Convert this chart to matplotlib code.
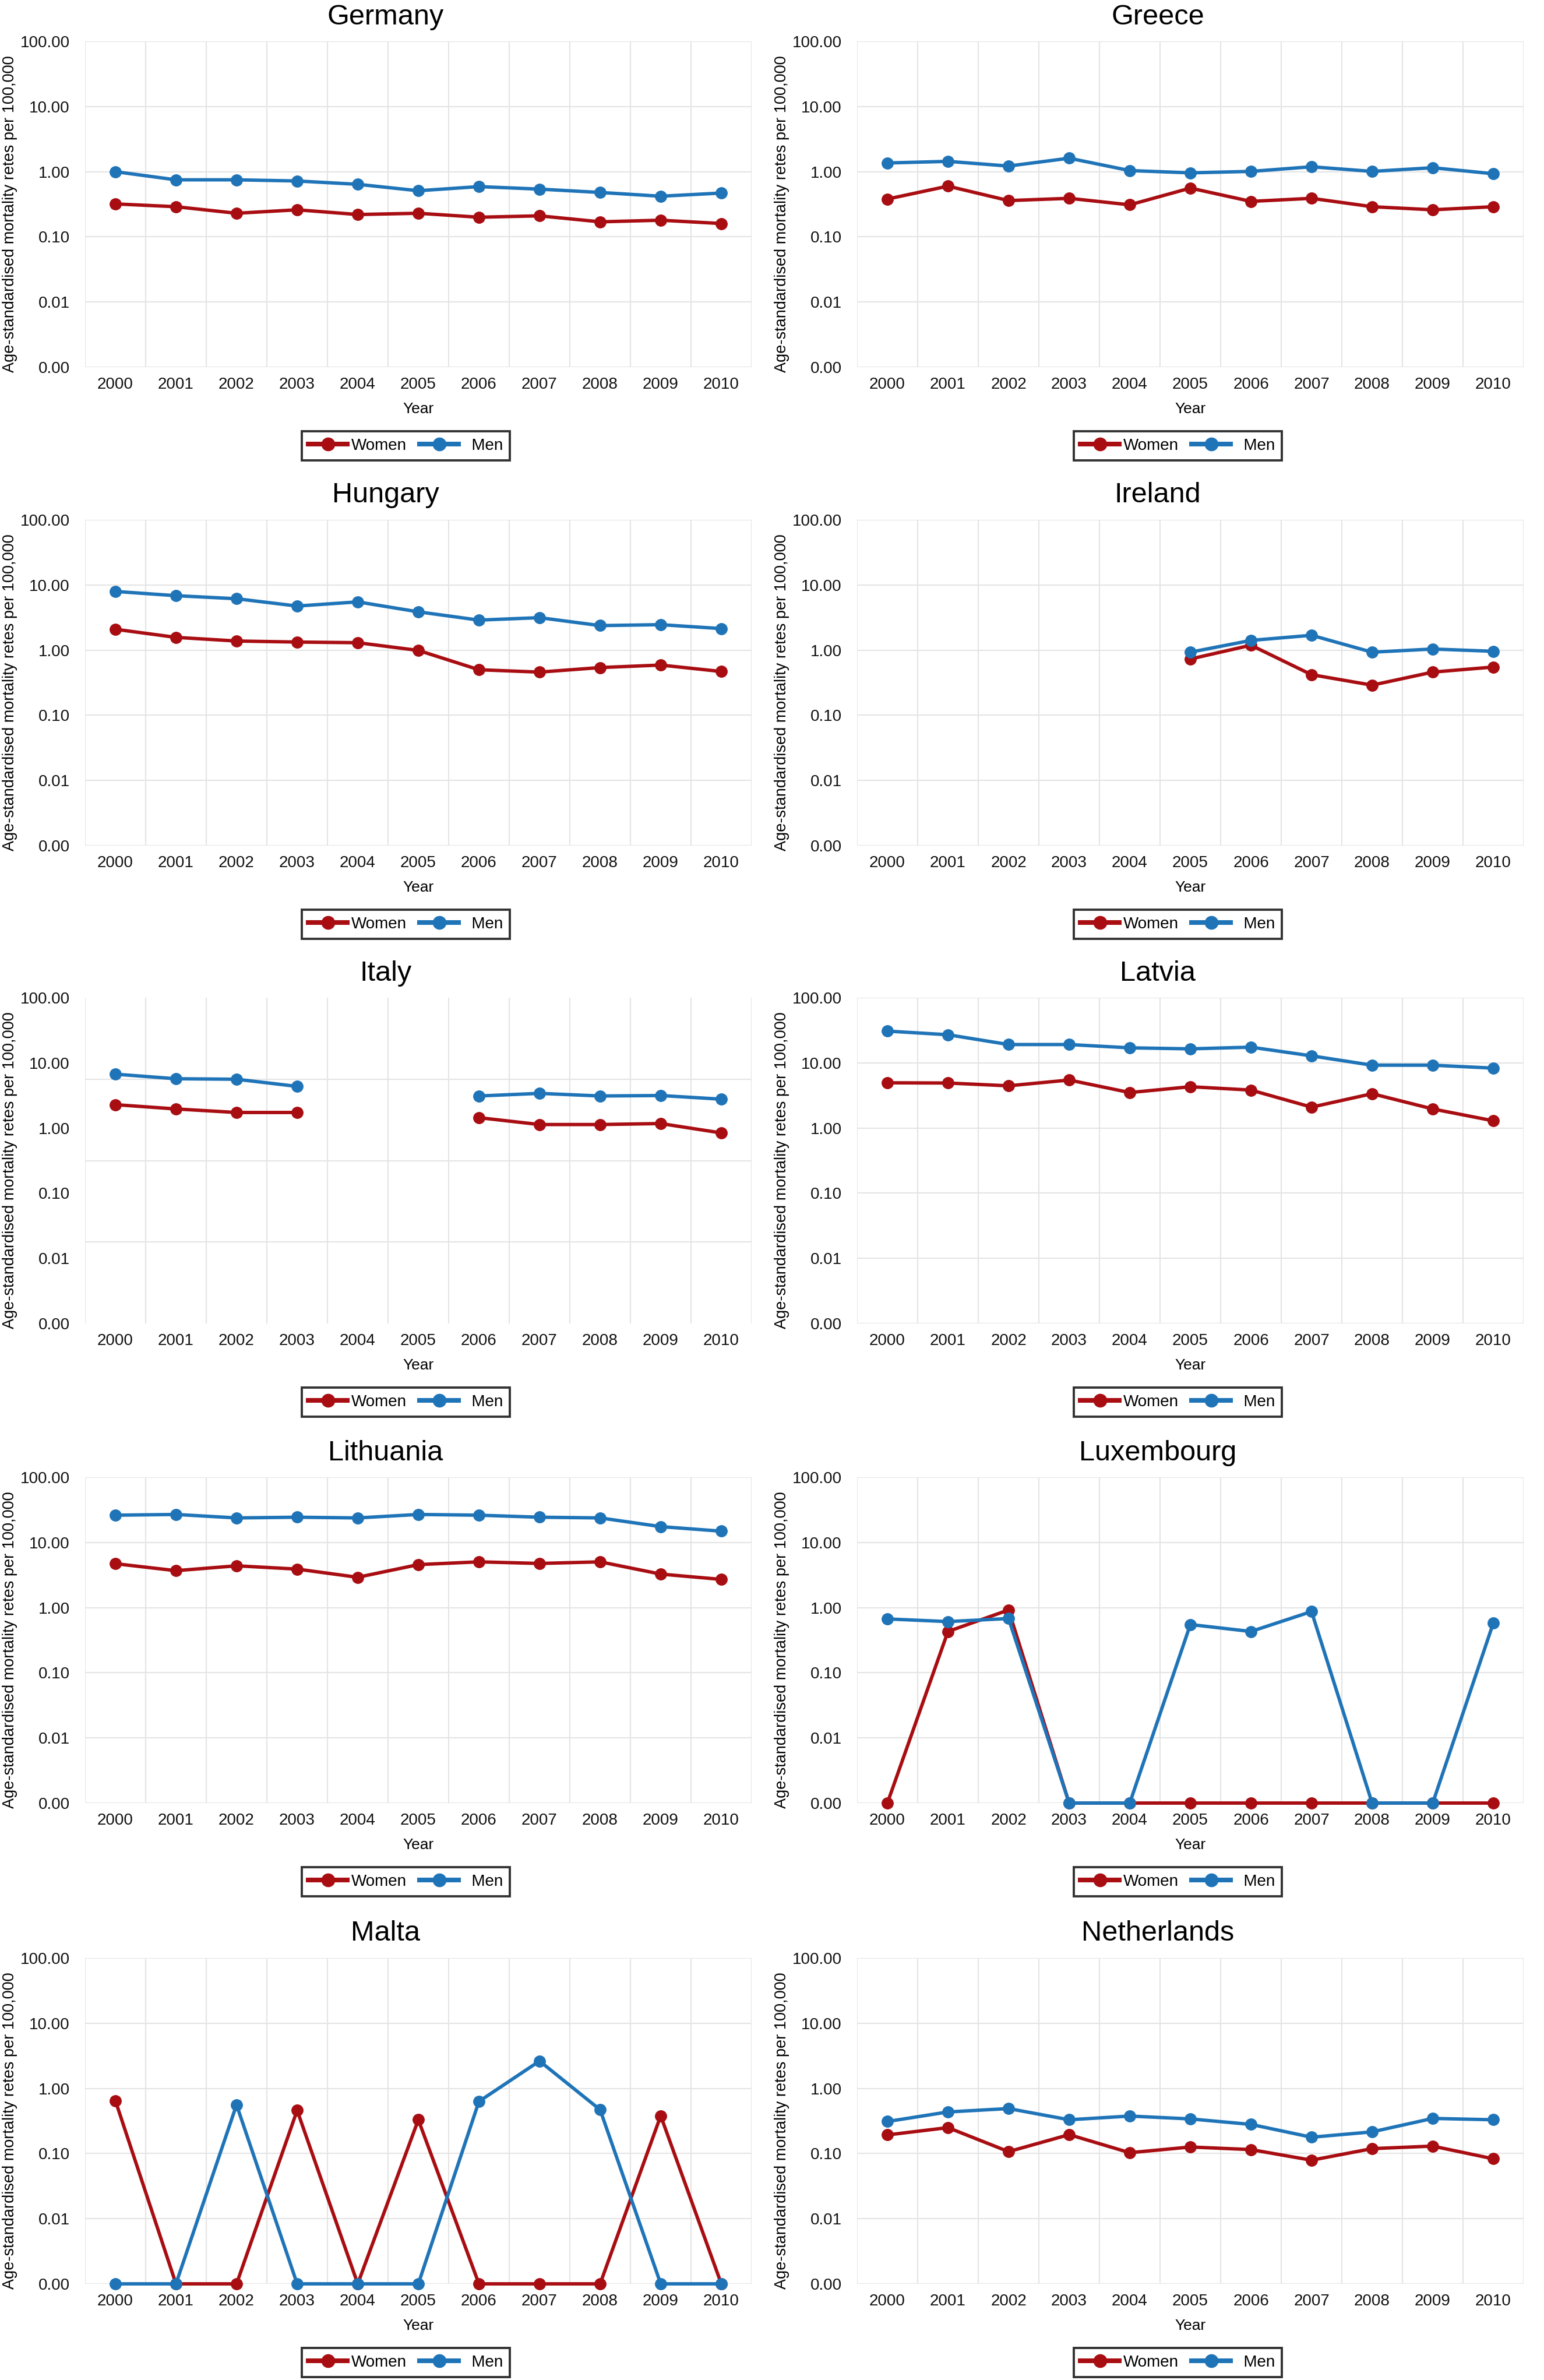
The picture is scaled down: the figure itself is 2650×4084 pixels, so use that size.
# Age-standardised mortality rates 2000-2010, women vs men, ten countries
import numpy as np
import matplotlib.pyplot as plt
from matplotlib.lines import Line2D
from matplotlib.ticker import NullFormatter, NullLocator

plt.rcParams['font.family'] = ['Liberation Sans', 'DejaVu Sans']

nan = np.nan

# Years on the x axis
years = ['2000', '2001', '2002', '2003', '2004', '2005',
         '2006', '2007', '2008', '2009', '2010']

# Values (0 = zero rate, nan = no data)
germany_women = [0.32, 0.29, 0.23, 0.26, 0.22, 0.23, 0.20, 0.21, 0.17, 0.18, 0.16]
germany_men = [1.00, 0.75, 0.75, 0.72, 0.64, 0.51, 0.59, 0.54, 0.48, 0.42, 0.47]

greece_women = [0.38, 0.60, 0.36, 0.39, 0.31, 0.56, 0.35, 0.39, 0.29, 0.26, 0.29]
greece_men = [1.36, 1.44, 1.22, 1.61, 1.04, 0.96, 1.01, 1.19, 1.01, 1.15, 0.93]

hungary_women = [2.09, 1.57, 1.38, 1.33, 1.30, 0.99, 0.50, 0.46, 0.54, 0.59, 0.47]
hungary_men = [7.96, 6.85, 6.15, 4.75, 5.50, 3.87, 2.89, 3.15, 2.38, 2.46, 2.14]

ireland_women = [nan, nan, nan, nan, nan, 0.73, 1.19, 0.42, 0.29, 0.46, 0.55]
ireland_men = [nan, nan, nan, nan, nan, 0.93, 1.41, 1.69, 0.93, 1.04, 0.96]

italy_women = [2.28, 1.96, 1.73, 1.73, nan, nan, 1.44, 1.13, 1.13, 1.17, 0.84]
italy_men = [6.70, 5.70, 5.60, 4.35, nan, nan, 3.10, 3.40, 3.10, 3.15, 2.77]

latvia_women = [4.94, 4.90, 4.44, 5.45, 3.50, 4.30, 3.82, 2.09, 3.36, 1.96, 1.29]
latvia_men = [30.7, 27.0, 19.1, 19.1, 17.0, 16.4, 17.4, 12.8, 9.2, 9.2, 8.3]

lithuania_women = [4.72, 3.69, 4.38, 3.90, 2.92, 4.57, 5.04, 4.76, 5.04, 3.27, 2.71]
lithuania_men = [26.2, 26.9, 23.8, 24.4, 23.8, 26.9, 26.2, 24.4, 23.8, 17.5, 14.9]

luxembourg_women = [0, 0.43, 0.92, 0, 0, 0, 0, 0, 0, 0, 0]
luxembourg_men = [0.67, 0.61, 0.68, 0, 0, 0.55, 0.43, 0.87, 0, 0, 0.58]

malta_women = [0.65, 0, 0, 0.46, 0, 0.33, 0, 0, 0, 0.38, 0]
malta_men = [0, 0, 0.56, 0, 0, 0, 0.63, 2.63, 0.47, 0, 0]

netherlands_women = [0.193, 0.25, 0.107, 0.195, 0.103, 0.126, 0.115, 0.079, 0.119, 0.13, 0.083]
netherlands_men = [0.31, 0.435, 0.49, 0.33, 0.376, 0.34, 0.28, 0.178, 0.215, 0.346, 0.33]

countries = ['Germany', 'Greece', 'Hungary', 'Ireland', 'Italy',
             'Latvia', 'Lithuania', 'Luxembourg', 'Malta', 'Netherlands']
women = [germany_women, greece_women, hungary_women, ireland_women, italy_women,
         latvia_women, lithuania_women, luxembourg_women, malta_women, netherlands_women]
men = [germany_men, greece_men, hungary_men, ireland_men, italy_men,
       latvia_men, lithuania_men, luxembourg_men, malta_men, netherlands_men]

# Y axis: log scale, zero drawn one decade below 0.01
ytick_vals = [0.001, 0.01, 0.1, 1, 10, 100]
ytick_labels = ['0.00', '0.01', '0.10', '1.00', '10.00', '100.00']
ZERO_POS = 0.001

women_color = '#a80d12'
men_color = '#1f74b8'
grid_color = '#e4e4e4'

# Figure / layout in pixels
W, H = 2650, 4084
fig = plt.figure(figsize=(W / 100, H / 100), dpi=100)

col_left = [146, 1471]
ax_w = 1144
row_top = [71, 892, 1712, 2535, 3360]
ax_h = 559

x = np.arange(len(years))

for i, name in enumerate(countries):
    row, col = i // 2, i % 2
    ax = fig.add_axes([col_left[col] / W, 1 - (row_top[row] + ax_h) / H,
                       ax_w / W, ax_h / H])

    w = np.array(women[i], dtype=float)
    m = np.array(men[i], dtype=float)
    w = np.where(w == 0, ZERO_POS, w)
    m = np.where(m == 0, ZERO_POS, m)

    ax.plot(x, w, color=women_color, lw=4.2, marker='o', ms=14,
            clip_on=False, zorder=3)
    ax.plot(x, m, color=men_color, lw=4.2, marker='o', ms=14,
            clip_on=False, zorder=4)

    ax.set_yscale('log')
    ax.set_ylim(0.001, 100)
    ax.set_xlim(-0.5, len(years) - 0.5)

    ax.set_yticks(ytick_vals)
    ax.set_yticklabels(ytick_labels)
    ax.yaxis.set_minor_formatter(NullFormatter())
    ax.set_xticks(x)
    ax.set_xticklabels(years)
    ax.set_xticks(np.arange(-0.5, len(years), 1), minor=True)

    ax.tick_params(axis='both', which='both', length=0, labelsize=20,
                   colors='#111111')
    ax.tick_params(axis='y', pad=19)
    ax.tick_params(axis='x', pad=12)

    # vertical grid at category boundaries
    ax.grid(axis='x', which='minor', color=grid_color, lw=1.5)
    ax.grid(axis='x', which='major', visible=False)
    if name == 'Italy':
        # this panel's horizontal grid is split in 4 equal parts
        ax.set_yticks([10 ** 2, 10 ** 0.75, 10 ** -0.5, 10 ** -1.75, 10 ** -3],
                      minor=True)
        ax.grid(axis='y', which='minor', color=grid_color, lw=1.5)
        ax.grid(axis='y', which='major', visible=False)
    else:
        ax.yaxis.set_minor_locator(NullLocator())
        ax.grid(axis='y', which='major', color=grid_color, lw=1.5)
    ax.set_axisbelow(True)

    for s in ax.spines.values():
        s.set_visible(False)

    ax.text(0.451, 1 + 42 / ax_h, name, transform=ax.transAxes,
            ha='center', va='center', fontsize=35)

    ax.set_xlabel('Year', fontsize=19)
    ax.xaxis.set_label_coords(0.5, -72 / ax_h)
    ax.xaxis.label.set_va('center')

    ax.set_ylabel('Age-standardised mortality retes per 100,000', fontsize=19.5)
    ax.yaxis.set_label_coords(-0.1128, 0.47)
    ax.yaxis.label.set_va('center')

    handles = [Line2D([], [], color=women_color, lw=5.8, marker='o', ms=16),
               Line2D([], [], color=men_color, lw=5.8, marker='o', ms=16)]
    leg = ax.legend(handles, ['Women', '  Men'], loc='center',
                    bbox_to_anchor=(0.481, -135 / ax_h), ncol=2,
                    fontsize=20, frameon=True, fancybox=False,
                    edgecolor='black', handlelength=2.4, handletextpad=0.25,
                    columnspacing=0.8, borderpad=0.42)
    leg.get_frame().set_linewidth(2.8)

fig.savefig('out.png', dpi=100, facecolor='white')
